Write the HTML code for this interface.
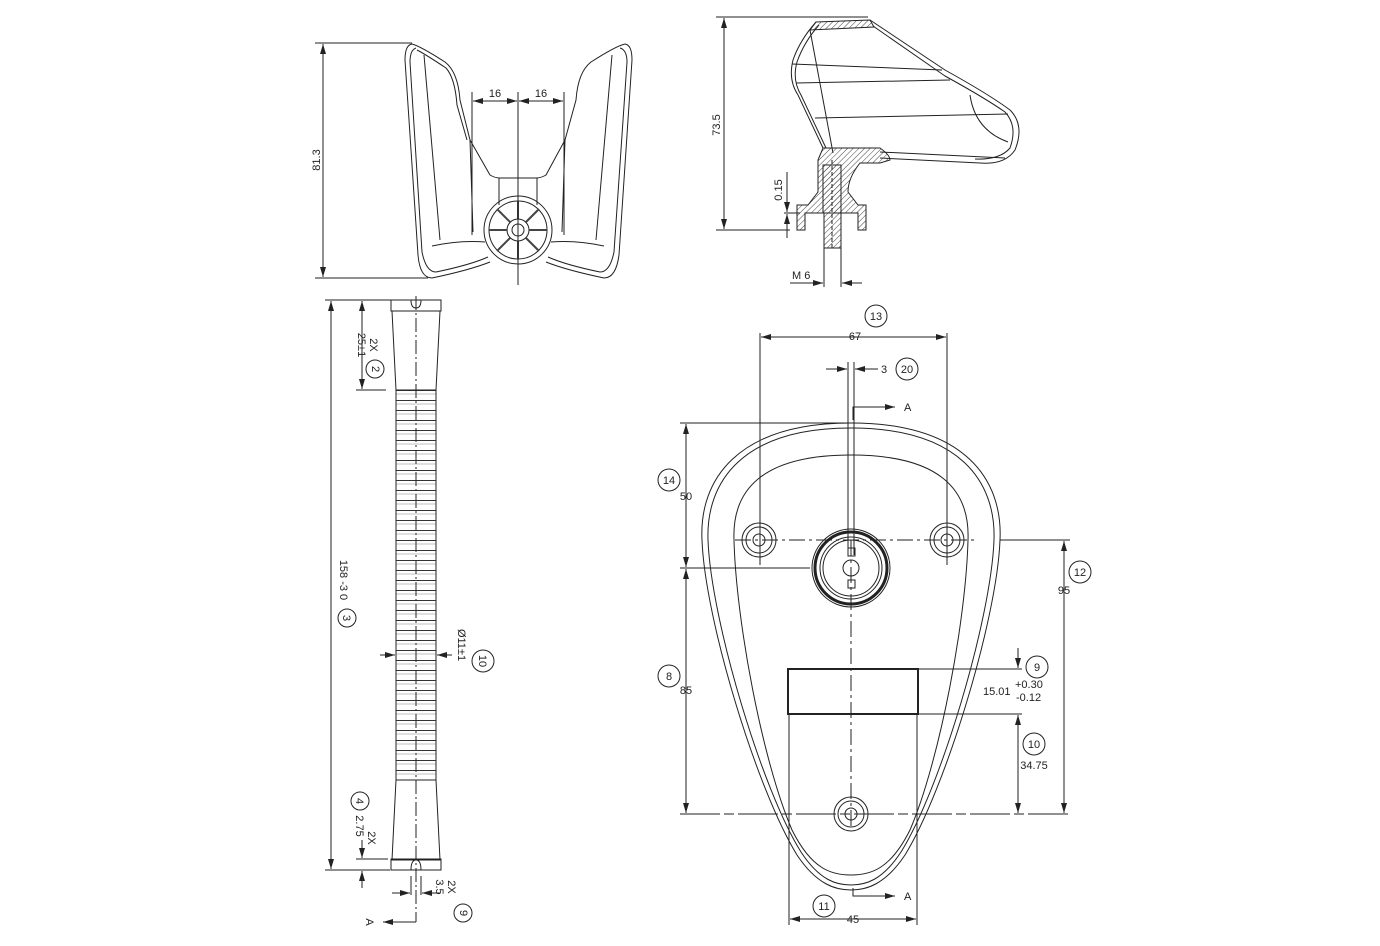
<!DOCTYPE html>
<html><head><meta charset="utf-8"><style>
html,body{margin:0;padding:0;background:#fff;}
svg{display:block;}
text{font-family:"Liberation Sans",sans-serif;font-size:11px;fill:#222;}
</style></head><body>
<svg width="1380" height="946" viewBox="0 0 1380 946" xmlns="http://www.w3.org/2000/svg">
<defs>
<marker id="ar" markerWidth="10" markerHeight="6" refX="10" refY="3" orient="auto-start-reverse" markerUnits="userSpaceOnUse"><path d="M0,0 L10,3 L0,6Z" fill="#222"/></marker>
<pattern id="rib" x="0" y="390" width="10" height="10" patternUnits="userSpaceOnUse"><line x1="0" y1="0.5" x2="10" y2="0.5" stroke="#333" stroke-width="1"/><line x1="0" y1="4" x2="10" y2="4" stroke="#999" stroke-width="0.6"/></pattern>
<pattern id="hat" width="4" height="4" patternUnits="userSpaceOnUse" patternTransform="rotate(45)"><line x1="0" y1="0" x2="0" y2="4" stroke="#444" stroke-width="1"/></pattern>
</defs>
<g fill="none" stroke="#222" stroke-width="1">

<!-- ===== Front view holder ===== -->
<line x1="315" y1="43" x2="412" y2="43"/>
<line x1="315" y1="278" x2="428" y2="278"/>
<line x1="323" y1="44" x2="323" y2="277" marker-start="url(#ar)" marker-end="url(#ar)"/>
<path d="M412,44 Q405,45 405,60 L418,255 Q420,278 432,278 Q470,270 490,262"/>
<path d="M416,48 Q410,50 410,62 L422,252 Q426,272 436,272 Q470,265 488,257"/>
<path d="M412,44 Q420,46 445,62 Q458,72 460,100 L470,140 L473,232"/>
<path d="M417,50 Q425,54 446,68 Q455,78 457,105 L467,140"/>
<path d="M424,55 L440,240"/>
<path d="M470,140 L490,175 Q495,178 500,178 L536,178 Q541,178 546,175 L565,140"/>
<path d="M625,44 Q632,45 632,60 L619,255 Q616,278 604,278 Q566,270 546,262"/>
<path d="M620,48 Q627,50 627,62 L614,252 Q610,272 600,272 Q566,265 548,257"/>
<path d="M625,44 Q616,46 591,62 Q578,72 576,100 L565,140 L562,232"/>
<path d="M612,55 L596,240"/>
<path d="M432,246 Q460,240 485,242"/><path d="M604,246 Q576,240 551,242"/>
<line x1="499" y1="178" x2="499" y2="205"/><line x1="537" y1="178" x2="537" y2="205"/>
<circle cx="518" cy="230" r="34"/><circle cx="518" cy="230" r="29"/><circle cx="518" cy="230" r="11"/><circle cx="518" cy="230" r="6"/>
<g stroke-width="2" stroke="#444">
<line x1="518" y1="201" x2="518" y2="219"/><line x1="518" y1="241" x2="518" y2="259"/><line x1="489" y1="230" x2="507" y2="230"/><line x1="529" y1="230" x2="547" y2="230"/>
<line x1="497" y1="209" x2="510" y2="222"/><line x1="526" y1="238" x2="539" y2="251"/><line x1="539" y1="209" x2="526" y2="222"/><line x1="510" y1="238" x2="497" y2="251"/>
</g>
<line x1="472" y1="92" x2="472" y2="235"/><line x1="564" y1="92" x2="564" y2="235"/>
<line x1="518" y1="92" x2="518" y2="285"/>
<line x1="473" y1="101" x2="517" y2="101" marker-start="url(#ar)" marker-end="url(#ar)"/>
<line x1="519" y1="101" x2="563" y2="101" marker-start="url(#ar)" marker-end="url(#ar)"/>

<!-- ===== Side view ===== -->
<line x1="716" y1="17" x2="868" y2="17"/>
<line x1="716" y1="230" x2="790" y2="230"/>
<line x1="724" y1="18" x2="724" y2="229" marker-start="url(#ar)" marker-end="url(#ar)"/>
<path d="M816,22 L870,20 L874,27 L810,30 Z" fill="url(#hat)"/>
<path d="M816,22 Q800,40 793,60 Q788,80 798,95 L823,148"/>
<path d="M819,25 Q804,42 797,62 Q792,80 801,95 L826,148"/>
<path d="M870,20 L945,70 Q990,95 1010,110 Q1025,125 1015,150 Q1005,165 980,163 L880,158"/>
<path d="M873,26 L945,76 Q985,98 1005,112 Q1018,126 1010,148 Q1000,160 975,159"/>
<line x1="792" y1="64" x2="942" y2="70"/><line x1="796" y1="83" x2="950" y2="80"/><line x1="815" y1="118" x2="1008" y2="114"/>
<line x1="810" y1="30" x2="833" y2="153"/>
<path d="M970,95 Q975,130 1008,142"/>
<path d="M823,148 L880,148 Q890,155 890,160 L880,163 L860,163 Q848,178 848,192 L858,205 L866,205 L866,230 L858,230 L858,213 L805,213 L805,230 L797,230 L797,205 L808,205 L818,192 L818,160 Z" fill="url(#hat)"/>
<rect x="823" y="165" width="18" height="48" fill="url(#hat)"/>
<rect x="824" y="213" width="17" height="35" fill="url(#hat)"/>
<line x1="880" y1="152" x2="1005" y2="158"/>
<line x1="832" y1="160" x2="832" y2="250" stroke-dasharray="4,2"/>
<line x1="824" y1="248" x2="824" y2="287"/><line x1="841" y1="248" x2="841" y2="287"/>
<line x1="784" y1="213" x2="800" y2="213"/>
<line x1="787" y1="172" x2="787" y2="212"/>
<line x1="787" y1="205" x2="787" y2="212" marker-end="url(#ar)"/>
<line x1="787" y1="238" x2="787" y2="214" marker-end="url(#ar)"/>
<line x1="790" y1="283" x2="823" y2="283" marker-end="url(#ar)"/>
<line x1="862" y1="283" x2="842" y2="283" marker-end="url(#ar)"/>

<!-- ===== Hose ===== -->
<line x1="325" y1="300" x2="410" y2="300"/>
<line x1="325" y1="870" x2="390" y2="870"/>
<line x1="331" y1="301" x2="331" y2="869" marker-start="url(#ar)" marker-end="url(#ar)"/>
<line x1="356" y1="390" x2="386" y2="390"/>
<line x1="362" y1="301" x2="362" y2="389" marker-start="url(#ar)" marker-end="url(#ar)"/>
<rect x="391" y="300" width="50" height="11"/>
<path d="M411,300 Q411,308 416,308 Q421,308 421,300"/>
<path d="M392,311 L396,390 L436,390 L440,311"/>
<rect x="396" y="390" width="40" height="390" fill="url(#rib)"/>
<path d="M396,780 L392,860 L440,860 L436,780 Z"/>
<rect x="391" y="859" width="50" height="11"/>
<path d="M411,870 Q411,860 416,860 Q421,860 421,870"/>
<line x1="416" y1="296" x2="416" y2="920" stroke-dasharray="14,3,2,3"/>
<line x1="416" y1="920" x2="416" y2="922"/>
<line x1="416" y1="922" x2="383" y2="922" marker-end="url(#ar)"/>
<line x1="380" y1="655" x2="395" y2="655" marker-end="url(#ar)"/>
<line x1="452" y1="655" x2="437" y2="655" marker-end="url(#ar)"/>
<line x1="356" y1="859" x2="388" y2="859"/>
<line x1="362" y1="840" x2="362" y2="858" marker-end="url(#ar)"/>
<line x1="362" y1="888" x2="362" y2="871" marker-end="url(#ar)"/>
<line x1="411" y1="876" x2="411" y2="895"/><line x1="421" y1="876" x2="421" y2="895"/>
<line x1="392" y1="893" x2="410" y2="893" marker-end="url(#ar)"/>
<line x1="440" y1="893" x2="422" y2="893" marker-end="url(#ar)"/>

<!-- ===== Plate ===== -->
<path d="M851,423 C965,423 1003,480 1000,540 C997,620 945,790 905,855 C885,885 866,890 851,890 C836,890 817,885 797,855 C757,790 705,620 702,540 C699,480 737,423 851,423 Z"/>
<path d="M851,428 C960,428 996,482 994,540 C991,620 940,790 901,852 C882,881 865,885 851,885 C837,885 820,881 801,852 C762,790 711,620 708,540 C706,482 742,428 851,428 Z"/>
<path d="M851,455 C940,455 970,490 968,540 C966,620 940,760 910,830 C890,870 870,875 851,875 C832,875 812,870 792,830 C762,760 736,620 734,540 C732,490 762,455 851,455 Z"/>
<line x1="760" y1="333" x2="760" y2="565"/><line x1="947" y1="333" x2="947" y2="565"/>
<line x1="761" y1="337" x2="946" y2="337" marker-start="url(#ar)" marker-end="url(#ar)"/>
<line x1="848" y1="362" x2="848" y2="555"/><line x1="854" y1="362" x2="854" y2="555"/>
<line x1="826" y1="369" x2="847" y2="369" marker-end="url(#ar)"/>
<line x1="878" y1="369" x2="855" y2="369" marker-end="url(#ar)"/>
<path d="M853,420 L853,407 L895,407" marker-end="url(#ar)"/>
<path d="M853,888 L853,896 L895,896" marker-end="url(#ar)"/>
<line x1="735" y1="540" x2="975" y2="540" stroke-dasharray="16,4,3,4"/>
<line x1="1000" y1="540" x2="1070" y2="540"/>
<line x1="851" y1="540" x2="851" y2="830" stroke-dasharray="16,4,3,4"/>
<circle cx="759" cy="540" r="17"/><circle cx="759" cy="540" r="13"/><circle cx="759" cy="540" r="6"/>
<circle cx="947" cy="540" r="17"/><circle cx="947" cy="540" r="13"/><circle cx="947" cy="540" r="6"/>
<circle cx="851" cy="568" r="39"/><circle cx="851" cy="568" r="36" stroke-width="3"/><circle cx="851" cy="568" r="31"/><circle cx="851" cy="568" r="28"/>
<circle cx="851" cy="568" r="8"/><rect x="848" y="548" width="7" height="8"/><rect x="848" y="580" width="7" height="8"/>
<circle cx="851" cy="814" r="17"/><circle cx="851" cy="814" r="13"/><circle cx="851" cy="814" r="6"/>
<line x1="680" y1="423" x2="850" y2="423"/>
<line x1="680" y1="568" x2="810" y2="568"/>
<line x1="680" y1="814" x2="1070" y2="814" stroke-dasharray="40,4,10,4"/>
<line x1="686" y1="424" x2="686" y2="567" marker-start="url(#ar)" marker-end="url(#ar)"/>
<line x1="686" y1="569" x2="686" y2="813" marker-start="url(#ar)" marker-end="url(#ar)"/>
<line x1="1064" y1="541" x2="1064" y2="813" marker-start="url(#ar)" marker-end="url(#ar)"/>
<rect x="788" y="669" width="130" height="45" stroke-width="2"/>
<line x1="918" y1="669" x2="1022" y2="669"/><line x1="918" y1="714" x2="1022" y2="714"/>
<line x1="1018" y1="648" x2="1018" y2="668" marker-end="url(#ar)"/>
<line x1="1018" y1="715" x2="1018" y2="813" marker-start="url(#ar)" marker-end="url(#ar)"/>
<line x1="789" y1="714" x2="789" y2="925"/><line x1="917" y1="714" x2="917" y2="925"/>
<line x1="790" y1="919" x2="916" y2="919" marker-start="url(#ar)" marker-end="url(#ar)"/>
</g>

<!-- circled callouts -->
<g fill="none" stroke="#222" stroke-width="1">
<circle cx="876" cy="316" r="11"/><circle cx="907" cy="369" r="11"/><circle cx="669" cy="480" r="11"/>
<circle cx="1080" cy="572" r="11"/><circle cx="1037" cy="667" r="11"/><circle cx="669" cy="676" r="11"/>
<circle cx="1034" cy="744" r="11"/><circle cx="824" cy="906" r="11"/>
<circle cx="375" cy="369" r="9"/><circle cx="347" cy="618" r="9"/><circle cx="483" cy="661" r="11"/>
<circle cx="360" cy="801" r="9"/><circle cx="463" cy="913" r="9"/>
</g>
<g font-size="11">
<text x="876" y="320" text-anchor="middle">13</text>
<text x="907" y="373" text-anchor="middle">20</text>
<text x="669" y="484" text-anchor="middle">14</text>
<text x="1080" y="576" text-anchor="middle">12</text>
<text x="1037" y="671" text-anchor="middle">9</text>
<text x="669" y="680" text-anchor="middle">8</text>
<text x="1034" y="748" text-anchor="middle">10</text>
<text x="824" y="910" text-anchor="middle">11</text>
<text x="855" y="340" text-anchor="middle" style="background:#fff">67</text>
<text x="881" y="373">3</text>
<text x="904" y="411">A</text>
<text x="904" y="900">A</text>
<text x="686" y="500" text-anchor="middle">50</text>
<text x="686" y="694" text-anchor="middle">85</text>
<text x="1064" y="594" text-anchor="middle">95</text>
<text x="1034" y="769" text-anchor="middle">34.75</text>
<text x="853" y="923" text-anchor="middle">45</text>
<text x="983" y="695">15.01</text>
<text x="1015" y="688" font-size="10">+0.30</text>
<text x="1016" y="701" font-size="10">-0.12</text>
<text x="495" y="97" text-anchor="middle">16</text>
<text x="541" y="97" text-anchor="middle">16</text>
<text x="792" y="279">M 6</text>
<text transform="translate(320,160) rotate(-90)" text-anchor="middle">81.3</text>
<text transform="translate(720,125) rotate(-90)" text-anchor="middle">73.5</text>
<text transform="translate(782,190) rotate(-90)" text-anchor="middle">0.15</text>
<text transform="translate(340,580) rotate(90)" text-anchor="middle">158 -3 0</text>
<text transform="translate(370,345) rotate(90)" text-anchor="middle">2X</text>
<text transform="translate(358,345) rotate(90)" text-anchor="middle">25±1</text>
<text transform="translate(372,369) rotate(90)" text-anchor="middle">2</text>
<text transform="translate(343,618) rotate(90)" text-anchor="middle">3</text>
<text transform="translate(458,645) rotate(90)" text-anchor="middle">Ø11±1</text>
<text transform="translate(479,661) rotate(90)" text-anchor="middle">10</text>
<text transform="translate(356,801) rotate(90)" text-anchor="middle">4</text>
<text transform="translate(356,826) rotate(90)" text-anchor="middle">2.75</text>
<text transform="translate(368,838) rotate(90)" text-anchor="middle">2X</text>
<text transform="translate(448,887) rotate(90)" text-anchor="middle">2X</text>
<text transform="translate(436,887) rotate(90)" text-anchor="middle">3.5</text>
<text transform="translate(460,913) rotate(90)" text-anchor="middle">9</text>
<text transform="translate(366,922) rotate(90)" text-anchor="middle">A</text>
</g>
</svg>
</body></html>
